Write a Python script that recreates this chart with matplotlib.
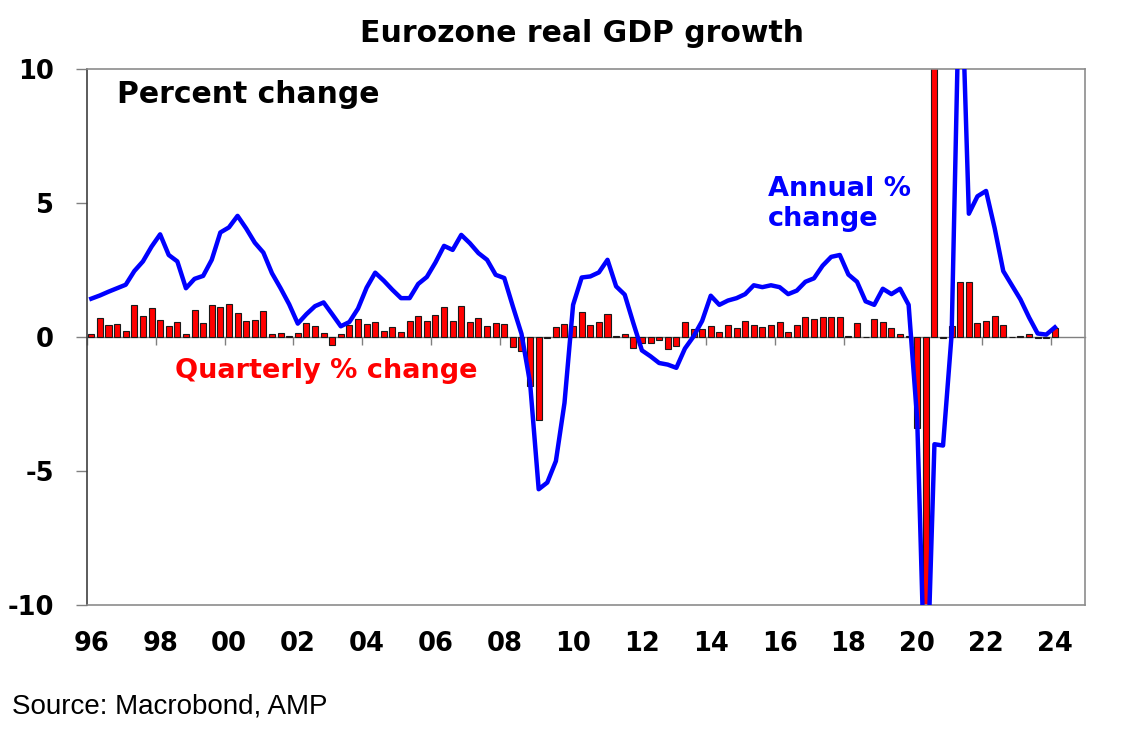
import numpy as np
import matplotlib
matplotlib.use("Agg")
import matplotlib.pyplot as plt

# Eurozone real GDP, quarterly from 1996Q1 to 2024Q1
start_year = 1996
quarterly_pct = [
    0.11, 0.71, 0.46, 0.50, 0.24, 1.19, 0.79, 1.10, 0.65, 0.42, 0.56, 0.12,
    1.00, 0.52, 1.19, 1.12, 1.22, 0.88, 0.58, 0.63, 0.96, 0.12, 0.15, 0.02,
    0.14, 0.51, 0.41, 0.15, -0.31, 0.10, 0.45, 0.68, 0.50, 0.57, 0.24, 0.36,
    0.19, 0.61, 0.77, 0.61, 0.83, 1.12, 0.61, 1.14, 0.57, 0.71, 0.42, 0.51,
    0.50, -0.37, -0.53, -1.81, -3.10, -0.04, 0.37, 0.47, 0.40, 0.93, 0.43, 0.57,
    0.84, 0.02, 0.12, -0.41, -0.22, -0.22, -0.12, -0.45, -0.35, 0.55, 0.30, 0.30,
    0.40, 0.20, 0.45, 0.35, 0.60, 0.44, 0.36, 0.43, 0.56, 0.17, 0.44, 0.73,
    0.68, 0.76, 0.73, 0.76, 0.04, 0.53, 0.00, 0.66, 0.57, 0.33, 0.13, 0.05,
    -3.40, -11.60, 12.50, -0.02, 0.40, 2.06, 2.06, 0.53, 0.60, 0.80, 0.44, 0.00,
    0.02, 0.13, -0.03, -0.03, 0.33,
]
annual_pct = [
    1.43, 1.55, 1.69, 1.82, 1.95, 2.46, 2.82, 3.37, 3.83, 3.06, 2.82, 1.82,
    2.17, 2.28, 2.88, 3.90, 4.09, 4.52, 4.05, 3.52, 3.15, 2.38, 1.82, 1.22,
    0.50, 0.85, 1.15, 1.29, 0.85, 0.40, 0.56, 1.06, 1.84, 2.40, 2.10, 1.76,
    1.45, 1.45, 1.98, 2.24, 2.78, 3.40, 3.25, 3.81, 3.50, 3.13, 2.88, 2.32,
    2.20, 1.14, 0.12, -1.71, -5.68, -5.43, -4.63, -2.46, 1.20, 2.22, 2.26, 2.41,
    2.88, 1.89, 1.58, 0.52, -0.50, -0.72, -0.97, -1.03, -1.15, -0.43, 0.02, 0.60,
    1.54, 1.20, 1.36, 1.45, 1.60, 1.93, 1.86, 1.93, 1.86, 1.60, 1.73, 2.06,
    2.19, 2.66, 2.99, 3.06, 2.33, 2.06, 1.33, 1.20, 1.80, 1.60, 1.80, 1.20,
    -3.10, -14.50, -4.00, -4.05, 0.10, 15.00, 4.60, 5.25, 5.45, 4.06, 2.46, 1.93,
    1.40, 0.73, 0.13, 0.09, 0.36,
]
year_ticks = list(range(1996, 2025, 2))
year_labels = [f"{y % 100:02d}" for y in year_ticks]
y_ticks = [-10, -5, 0, 5, 10]
y_labels = ["-10", "-5", "0", "5", "10"]

plt.rcParams["font.family"] = ["DejaVu Sans"]
plt.rcParams["font.weight"] = "bold"

x = start_year + 0.125 + 0.25 * np.arange(len(quarterly_pct))

fig = plt.figure(figsize=(11.24, 7.45), dpi=100)
ax = fig.add_axes([0.0774, 0.1879, 0.8879, 0.7195])

ax.bar(x, quarterly_pct, width=0.175, color="#ff0000", edgecolor="#1a1a1a",
       linewidth=0.8, zorder=2)
ax.plot(x, annual_pct, color="#0000ff", linewidth=3.2, zorder=3,
        solid_joinstyle="round")

ax.set_xlim(1996, 2025.0)
ax.set_ylim(-10, 10)

# axis along zero with the year tick marks
zero_axis = ax.secondary_xaxis(0, transform=ax.transData)
zero_axis.set_xticks(year_ticks)
zero_axis.set_xticklabels([])
zero_axis.tick_params(direction="out", length=6, width=1, color="#808080")
zero_axis.spines["bottom"].set_color("#808080")
zero_axis.spines["bottom"].set_linewidth(1.0)

ax.set_xticks([y + 0.125 for y in year_ticks])
ax.set_xticklabels(year_labels)
ax.tick_params(axis="x", length=0, pad=19, labelsize=18.5)
ax.set_yticks(y_ticks)
ax.set_yticklabels(y_labels)
ax.tick_params(axis="y", length=8, width=1, color="#808080", pad=16,
               labelsize=18.5)

for side in ["top", "right", "bottom"]:
    ax.spines[side].set_color("#8c8c8c")
    ax.spines[side].set_linewidth(1.2)
ax.spines["left"].set_color("#404040")
ax.spines["left"].set_linewidth(1.2)

fig.text(0.5174, 0.944, "Eurozone real GDP growth", ha="center",
         va="baseline", fontsize=21.5, fontweight="bold")
fig.text(0.1038, 0.8613, "Percent change", ha="left", va="baseline",
         fontsize=21.5, fontweight="bold")
fig.text(0.683, 0.737, "Annual %", ha="left", va="baseline",
         fontsize=19.5, fontweight="bold", color="#0000ff")
fig.text(0.683, 0.697, "change", ha="left", va="baseline",
         fontsize=19.5, fontweight="bold", color="#0000ff")
fig.text(0.1557, 0.4926, "Quarterly % change", ha="left", va="baseline",
         fontsize=19.5, fontweight="bold", color="#ff0000")
fig.text(0.0104, 0.0425, "Source: Macrobond, AMP", ha="left", va="baseline",
         fontsize=20, fontweight="normal", family=["Liberation Sans"])

fig.savefig("out.png", dpi=100)
